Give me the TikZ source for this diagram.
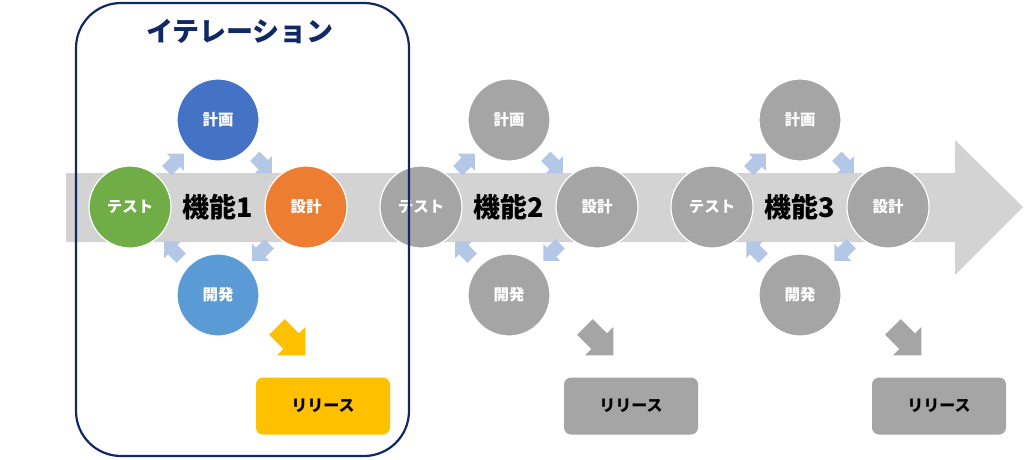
\documentclass[tikz,border=0pt]{standalone}
\usepackage{fontspec}
\setmainfont{Noto Sans CJK JP}
\usetikzlibrary{calc}

\definecolor{navy}{RGB}{16,40,100}
\definecolor{planblue}{HTML}{4472C4}
\definecolor{designorange}{HTML}{ED7D31}
\definecolor{testgreen}{HTML}{70AD47}
\definecolor{devblue}{HTML}{5B9BD5}
\definecolor{stepgray}{HTML}{A5A5A5}
\definecolor{flowgray}{HTML}{D3D3D3}
\definecolor{cycleblue}{HTML}{B4C7E7}
\definecolor{releaseyellow}{HTML}{FFC000}

\begin{document}
\begin{tikzpicture}[%
        x = 1pt, y = 1pt,
        phase/.style = {%
            circle, draw = white, line width = 1.2pt,
            minimum size = 82pt, inner sep = 0pt, text = white,
            font = \bfseries\fontsize{15.5}{15.5}\selectfont
        },
        release/.style = {%
            rounded corners = 7pt, minimum width = 134pt,
            minimum height = 57pt, inner sep = 0pt,
            font = \bfseries\fontsize{16}{16}\selectfont
        },
        feature/.style = {font = \bfseries\fontsize{27}{27}\selectfont},
        blockarrow/.pic = {%
            \path[pic actions] (-17,-11) -- (3,-11) -- (3,-20) -- (23,0)
                -- (3,20) -- (3,11) -- (-17,11) -- cycle;
        }
    ]

        \useasboundingbox (0,0) rectangle (1024,-459);

        % Coordinates for the big timeline arrow.
        \coordinate (t1) at (66,-173);
        \coordinate (t2) at (955,-173);
        \coordinate (t3) at (955,-140);
        \coordinate (tip) at (1023,-207);
        \coordinate (t4) at (955,-275);
        \coordinate (t5) at (955,-242);
        \coordinate (t6) at (66,-242);
        \fill[flowgray] (t1) -- (t2) -- (t3) -- (tip) -- (t4) -- (t5) -- (t6) -- cycle;

        % One cycle of four phases for each feature.
        \foreach \n/\cx/\rx/\cp/\cd/\cv/\ct/\cr in {%
            1/218/323/planblue/designorange/devblue/testgreen/releaseyellow,
            2/509/631/stepgray/stepgray/stepgray/stepgray/stepgray,
            3/800/939/stepgray/stepgray/stepgray/stepgray/stepgray}{%
            \node[phase, fill = \cp] (plan\n) at (\cx,-120) {計画};
            \node[phase, fill = \cd] (design\n) at (\cx+88,-207) {設計};
            \node[phase, fill = \cv] (dev\n) at (\cx,-295) {開発};
            \node[phase, fill = \ct] (test\n) at (\cx-88,-207) {テスト};
            \node[feature] (feat\n) at (\cx,-207) {機能\n};

            % Arrows round the cycle.
            \pic[fill = cycleblue, rotate = 45, scale = 0.6]
                at ($(test\n)!0.5!(plan\n)$) {blockarrow};
            \pic[fill = cycleblue, rotate = -45, scale = 0.6]
                at ($(plan\n)!0.5!(design\n)$) {blockarrow};
            \pic[fill = cycleblue, rotate = -135, scale = 0.6]
                at ($(design\n)!0.5!(dev\n)$) {blockarrow};
            \pic[fill = cycleblue, rotate = 135, scale = 0.6]
                at ($(dev\n)!0.5!(test\n)$) {blockarrow};

            % Release box and its arrow.
            \node[release, fill = \cr] (rel\n) at (\rx,-406) {リリース};
            \pic[fill = \cr, rotate = -45] at ($(rel\n)+(-34,67)$) {blockarrow};
        }

        % Frame round the first iteration.
        \draw[navy, line width = 2.2pt, rounded corners = 45pt]
            (76,-3) rectangle (409,-456);
        \node[navy, font = \bfseries\fontsize{27}{27}\selectfont] (iter)
            at (240,-31) {イテレーション};
    \end{tikzpicture}
\end{document}
